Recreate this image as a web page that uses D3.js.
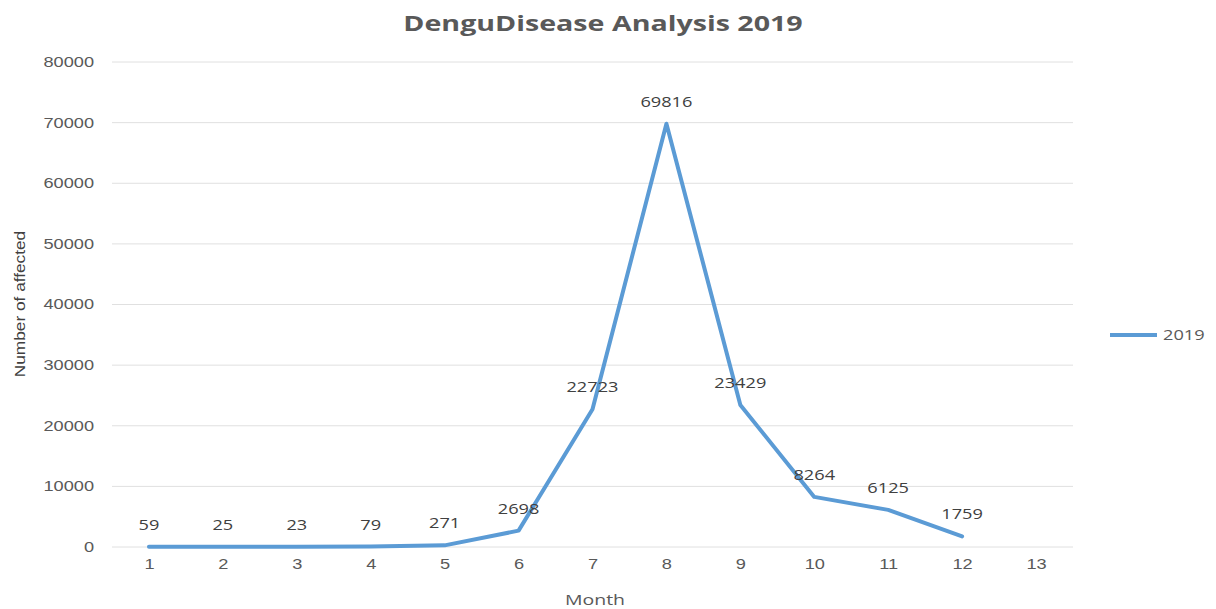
<!DOCTYPE html>
<html>
<head>
<meta charset="utf-8">
<script src="https://cdn.jsdelivr.net/npm/d3@7"></script>
<style>
  html, body { margin: 0; padding: 0; background: #fff; }
  svg { display: block; font-family: "Open Sans", "Liberation Sans", sans-serif; }
</style>
</head>
<body>
<svg id="chart" width="1216" height="609"></svg>
<script>
// Monthly dengue cases, 2019
const months = ["1","2","3","4","5","6","7","8","9","10","11","12","13"];
const cases2019 = [59, 25, 23, 79, 271, 2698, 22723, 69816, 23429, 8264, 6125, 1759];
const yTicks = [0, 10000, 20000, 30000, 40000, 50000, 60000, 70000, 80000];
const seriesName = "2019";

const svg = d3.select("#chart");
const plot = { left: 112, right: 1073, top: 62, bottom: 547 };
const WIDE = 1.3; // horizontal stretch applied to the chart's lettering

// widen text glyphs horizontally around their anchor
function widen(sel, k) {
  sel.each(function () {
    const w = this.getComputedTextLength();
    d3.select(this).attr("textLength", w * k).attr("lengthAdjust", "spacingAndGlyphs");
  });
}

const x = d3.scalePoint()
  .domain(months)
  .range([plot.left, plot.right])
  .padding(0.5);

const y = d3.scaleLinear()
  .domain([0, 80000])
  .range([plot.bottom, plot.top]);

// horizontal gridlines
svg.append("g")
  .selectAll("line")
  .data(yTicks)
  .join("line")
  .attr("x1", plot.left)
  .attr("x2", plot.right)
  .attr("y1", d => y(d))
  .attr("y2", d => y(d))
  .attr("stroke", "#e0e0e0")
  .attr("stroke-width", 1);

// y axis labels
const yAxis = svg.append("g")
  .attr("transform", `translate(${plot.left - 18},0)`)
  .call(d3.axisLeft(y).tickValues(yTicks).tickSize(0).tickPadding(0).tickFormat(d3.format("d")));
yAxis.select(".domain").remove();
yAxis.selectAll("text")
  .attr("fill", "#595959")
  .style("font-size", "14px")
  .call(widen, WIDE);

// x axis labels
const xAxis = svg.append("g")
  .attr("transform", `translate(0,${plot.bottom + 12})`)
  .call(d3.axisBottom(x).tickSize(0).tickPadding(0));
xAxis.select(".domain").remove();
xAxis.selectAll("text")
  .attr("fill", "#595959")
  .style("font-size", "14px")
  .call(widen, WIDE);

// the series line
const pts = cases2019.map((v, i) => ({ m: months[i], v }));
svg.append("path")
  .datum(pts)
  .attr("fill", "none")
  .attr("stroke", "#5b9bd5")
  .attr("stroke-width", 4)
  .attr("stroke-linejoin", "round")
  .attr("stroke-linecap", "round")
  .attr("d", d3.line().x(d => x(d.m)).y(d => y(d.v)));

// value labels above each point
svg.append("g")
  .selectAll("text")
  .data(pts)
  .join("text")
  .attr("x", d => x(d.m))
  .attr("y", d => y(d.v) - 17)
  .attr("text-anchor", "middle")
  .attr("fill", "#404040")
  .style("font-size", "14px")
  .text(d => d.v)
  .call(widen, WIDE);

// title
svg.append("text")
  .attr("x", 603)
  .attr("y", 31)
  .attr("text-anchor", "middle")
  .attr("fill", "#595959")
  .style("font-size", "22px")
  .style("font-weight", "bold")
  .text("DenguDisease Analysis 2019")
  .call(widen, WIDE);

// axis titles
svg.append("text")
  .attr("x", 595)
  .attr("y", 605)
  .attr("text-anchor", "middle")
  .attr("fill", "#595959")
  .style("font-size", "15px")
  .text("Month")
  .call(widen, WIDE);

svg.append("text")
  .attr("transform", "translate(25,304) rotate(-90)")
  .attr("text-anchor", "middle")
  .attr("fill", "#404040")
  .style("font-size", "15px")
  .style("font-family", "'Liberation Sans', sans-serif")
  .text("Number of affected")
  .call(widen, 1.15);

// legend
const lg = svg.append("g").attr("transform", "translate(1110,335)");
lg.append("line")
  .attr("x1", 0).attr("x2", 47)
  .attr("stroke", "#5b9bd5")
  .attr("stroke-width", 4);
lg.append("text")
  .attr("x", 53)
  .attr("y", 5)
  .attr("fill", "#595959")
  .style("font-size", "14px")
  .text(seriesName)
  .call(widen, WIDE);
</script>
</body>
</html>
